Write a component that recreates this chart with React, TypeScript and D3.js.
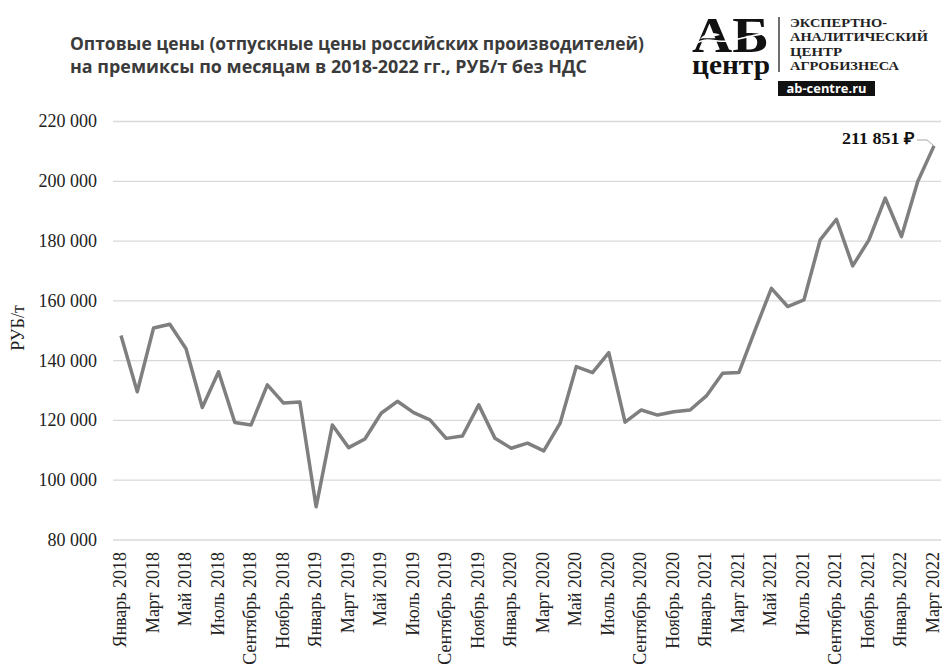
import React from "react";
import * as d3 from "d3";

const categories = [
  "Январь 2018","Февраль 2018","Март 2018","Апрель 2018","Май 2018","Июнь 2018","Июль 2018","Август 2018","Сентябрь 2018","Октябрь 2018","Ноябрь 2018","Декабрь 2018",
  "Январь 2019","Февраль 2019","Март 2019","Апрель 2019","Май 2019","Июнь 2019","Июль 2019","Август 2019","Сентябрь 2019","Октябрь 2019","Ноябрь 2019","Декабрь 2019",
  "Январь 2020","Февраль 2020","Март 2020","Апрель 2020","Май 2020","Июнь 2020","Июль 2020","Август 2020","Сентябрь 2020","Октябрь 2020","Ноябрь 2020","Декабрь 2020",
  "Январь 2021","Февраль 2021","Март 2021","Апрель 2021","Май 2021","Июнь 2021","Июль 2021","Август 2021","Сентябрь 2021","Октябрь 2021","Ноябрь 2021","Декабрь 2021",
  "Январь 2022","Февраль 2022","Март 2022",
];

const prices = [
  148400, 129600, 150900, 152200, 144000, 124300, 136300, 119300, 118500, 131900, 125800, 126200,
  91100, 118500, 110900, 113800, 122400, 126400, 122600, 120200, 114000, 114800, 125200, 114000,
  110700, 112400, 109800, 119000, 138000, 136000, 142700, 119400, 123500, 121800, 122900, 123500,
  128200, 135800, 136000, 150300, 164200, 158100, 160300, 180400, 187300, 171700, 180400, 194400,
  181500, 199900, 211851,
];

const yTicks = [80000, 100000, 120000, 140000, 160000, 180000, 200000, 220000];

const titleLines = [
  "Оптовые цены (отпускные цены российских производителей)",
  "на премиксы по месяцам в 2018-2022 гг., РУБ/т без НДС",
];

const logoLines = ["ЭКСПЕРТНО-", "АНАЛИТИЧЕСКИЙ", "ЦЕНТР", "АГРОБИЗНЕСА"];

const lastLabel = "211 851 ₽";
const yTitle = "РУБ/т";

const fmt = (v: number) => d3.format(",")(v).replace(/,/g, " ");

export default function App() {
  const W = 942, H = 666;
  const x = d3.scalePoint<string>().domain(categories).range([121, 934]);
  const y = d3.scaleLinear().domain([80000, 220000]).range([540, 121.5]);
  const line = d3
    .line<number>()
    .x((_, i) => x(categories[i]) as number)
    .y((d) => y(d));

  const serif = "'Liberation Serif', 'Times New Roman', serif";
  const lastX = x(categories[categories.length - 1]) as number;
  const lastY = y(prices[prices.length - 1]);

  return (
    <svg
      width={W}
      height={H}
      viewBox={`0 0 ${W} ${H}`}
      style={{ position: "absolute", left: 0, top: 0, background: "#fff" }}
    >
      <rect width={W} height={H} fill="#fff" />
      {/* Title */}
      {titleLines.map((t, i) => (
        <text
          key={i}
          x={70}
          y={50 + i * 23}
          fontFamily="'Open Sans', sans-serif"
          fontWeight={700}
          fontSize={17.5}
          fill="#3b3b3b"
          textLength={i === 0 ? 574 : 517}
          lengthAdjust="spacingAndGlyphs"
        >
          {t}
        </text>
      ))}

      {/* Logo */}
      <g>
        <text x={692} y={52} fontFamily={serif} fontWeight={700} fontSize={50} fill="#111"
          textLength={77} lengthAdjust="spacingAndGlyphs">АБ</text>
        <path d="M693,46 C705,35 716,43 728,41 C742,39 752,35 768,33" stroke="#fff" strokeWidth={1.6} fill="none" />
        <path d="M700,39 C706,32 714,32 720,35 C713,37 706,37 700,39 Z" fill="#fff" />
        <text x={692} y={74} fontFamily={serif} fontWeight={700} fontSize={28} fill="#111"
          textLength={78} lengthAdjust="spacingAndGlyphs">центр</text>
        <line x1={779} x2={779} y1={17} y2={72} stroke="#222" strokeWidth={1.3} />
        {logoLines.map((t, i) => (
          <text key={i} x={790} y={27 + i * 14.4} fontFamily={serif} fontWeight={700} fontSize={13.5}
            fill="#222" textLength={[97, 138, 52, 109][i]} lengthAdjust="spacingAndGlyphs">{t}</text>
        ))}
        <rect x={778} y={81} width={97} height={15} fill="#111" />
        <text x={826.5} y={93} textAnchor="middle" fontFamily="'Open Sans', sans-serif" fontWeight={700}
          fontSize={12.5} fill="#fff" textLength={80} lengthAdjust="spacingAndGlyphs">ab-centre.ru</text>
      </g>

      {/* Gridlines */}
      {yTicks.map((t) => (
        <line key={t} x1={113} x2={941} y1={y(t)} y2={y(t)} stroke="#d9d9d9" strokeWidth={1.3} />
      ))}

      {/* Y tick labels */}
      {yTicks.map((t) => (
        <text key={t} x={97} y={y(t)} dy="0.33em" textAnchor="end" fontFamily={serif} fontSize={18} fill="#222">
          {fmt(t)}
        </text>
      ))}

      {/* Y title */}
      <text transform={`translate(24,328) rotate(-90)`} textAnchor="middle" fontFamily={serif} fontSize={18} fill="#222">
        {yTitle}
      </text>

      {/* X labels */}
      {categories.map((c, i) =>
        i % 2 === 0 ? (
          <text
            key={c}
            transform={`translate(${(x(c) as number) + 5},552) rotate(-90)`}
            textAnchor="end"
            fontFamily={serif}
            fontSize={18}
            fill="#222"
          >
            {c}
          </text>
        ) : null
      )}

      {/* Line */}
      <path d={line(prices) || ""} fill="none" stroke="#7f7f7f" strokeWidth={3.5} strokeLinejoin="round" />

      {/* Last value label */}
      <path d={`M${lastX - 17},140 L${lastX - 7},140 L${lastX},${lastY}`} fill="none" stroke="#a6a6a6" strokeWidth={1} />
      <text x={lastX - 19} y={144} textAnchor="end" fontFamily={serif} fontWeight={700} fontSize={16.5} fill="#111"
        textLength={73} lengthAdjust="spacingAndGlyphs">
        {lastLabel}
      </text>
    </svg>
  );
}
